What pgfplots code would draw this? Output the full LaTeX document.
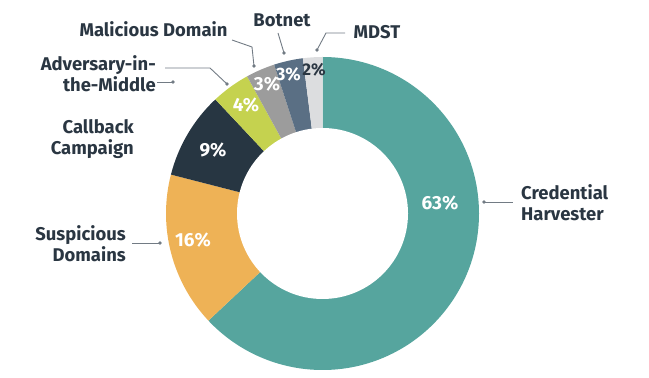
\documentclass[border=0pt]{standalone}
\usepackage{pgfplots}
\pgfplotsset{compat=1.18}
\usepackage{pgfplotstable}
\usepackage{fontspec}
\setmainfont{Fira Sans}
\definecolor{c0}{HTML}{56A59E}
\definecolor{c1}{HTML}{EEB256}
\definecolor{c2}{HTML}{273642}
\definecolor{c3}{HTML}{C5D24F}
\definecolor{c4}{HTML}{9C9C9C}
\definecolor{c5}{HTML}{5A6F84}
\definecolor{c6}{HTML}{DCDDDF}
\definecolor{txt}{HTML}{2A3642}
\definecolor{lead}{HTML}{727B84}
\definecolor{p0}{HTML}{FFFFFF}
\definecolor{p1}{HTML}{FFFFFF}
\definecolor{p2}{HTML}{FFFFFF}
\definecolor{p3}{HTML}{FFFFFF}
\definecolor{p4}{HTML}{FFFFFF}
\definecolor{p5}{HTML}{FFFFFF}
\definecolor{p6}{HTML}{2A3642}

% share of each category (percent), clockwise from 12 o'clock
\pgfplotstableread{
value lx    ly  fs
63    440   175 19
16    193   138 19
9     213   228 19
4     246   273 19
3     267   294 19
3     288.5 304 18
2     314   308 17
}\piedata

% cumulative start/end angles
\pgfplotstablecreatecol[create col/expr accum={\thisrow{value}+\pgfmathaccuma}{0}]{cum}\piedata

\begin{document}
\begin{tikzpicture}
\begin{axis}[
  width=649bp, height=378bp, scale only axis,
  xmin=0, xmax=649, ymin=0, ymax=378,
  hide axis, clip=false,
]
\path (axis cs:0,0) rectangle (axis cs:649,378);
\pgfplotsinvokeforeach{0,...,6}{%
  \pgfplotstablegetelem{#1}{value}\of\piedata \let\sv\pgfplotsretval
  \pgfplotstablegetelem{#1}{cum}\of\piedata \let\sc\pgfplotsretval
  \pgfmathsetmacro\sa{90-3.6*(\sc-\sv)}%
  \pgfmathsetmacro\sb{90-3.6*\sc}%
  \edef\temp{\noexpand\fill[fill=c#1] (axis cs:322.5,164.5) -- ++(\sa:156.5bp) arc[start angle=\sa, end angle=\sb, radius=156.5bp] -- cycle;}%
  \temp
}
\fill[white] (axis cs:322.5,164.5) circle[radius=85.5bp];
\pgfplotsinvokeforeach{0,...,6}{%
  \pgfplotstablegetelem{#1}{value}\of\piedata \let\sv\pgfplotsretval
  \pgfplotstablegetelem{#1}{lx}\of\piedata \let\slx\pgfplotsretval
  \pgfplotstablegetelem{#1}{ly}\of\piedata \let\sly\pgfplotsretval
  \pgfplotstablegetelem{#1}{fs}\of\piedata \let\sfs\pgfplotsretval
  \edef\temp{\noexpand\node[text=p#1, font=\noexpand\fontsize{\sfs}{22}\noexpand\selectfont\noexpand\bfseries, inner sep=0pt] at (axis cs:\slx,\sly) {\sv\noexpand\%};}%
  \temp
}
% category labels
\tikzset{lab/.style={text=txt, font=\fontsize{18.5}{21}\selectfont\bfseries, inner sep=0pt, align=#1}}
\node[lab=left, anchor=west] at (axis cs:521,175.5) {Credential\\Harvester};
\node[lab=right, anchor=east] at (axis cs:126,134.5) {Suspicious\\Domains};
\node[lab=right, anchor=east] at (axis cs:134,239) {Callback\\Campaign};
\node[lab=right, anchor=east] at (axis cs:156,304) {Adversary-in-\\the-Middle};
\node[lab=center] at (axis cs:153.5,349) {Malicious Domain};
\node[lab=center] at (axis cs:282,358) {Botnet};
\node[lab=center] at (axis cs:377,346) {MDST};
% leader lines
\tikzset{ld/.style={draw=lead, line width=0.9bp}}
\draw[ld] (axis cs:484,176) -- (axis cs:513,176);
\fill[lead] (axis cs:484,176) circle[radius=1.8bp];
\draw[ld] (axis cs:132,135) -- (axis cs:160,135);
\fill[lead] (axis cs:160,135) circle[radius=1.8bp];
\draw[ld] (axis cs:165,310) -- (axis cs:210,310) -- (axis cs:227,294);
\fill[lead] (axis cs:227,294) circle[radius=1.8bp];
\draw[ld] (axis cs:157,296) -- (axis cs:173,296);
\fill[lead] (axis cs:173,296) circle[radius=1.8bp];
\draw[ld] (axis cs:232,338) -- (axis cs:252,331) -- (axis cs:254,312);
\fill[lead] (axis cs:254,312) circle[radius=1.8bp];
\draw[ld] (axis cs:278,345) -- (axis cs:284,325);
\fill[lead] (axis cs:284,325) circle[radius=1.8bp];
\draw[ld] (axis cs:345,345) -- (axis cs:326,345) -- (axis cs:317,328);
\fill[lead] (axis cs:317,328) circle[radius=1.8bp];
\end{axis}
\end{tikzpicture}
\end{document}
